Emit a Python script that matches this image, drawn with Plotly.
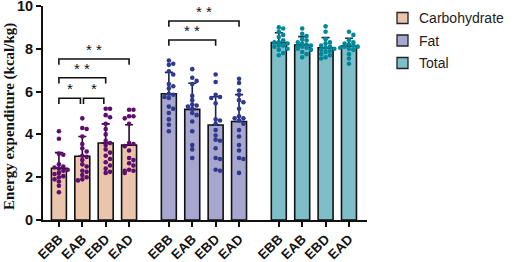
import plotly.graph_objects as go

# ---------------- data ----------------
categories = ["EBB", "EAB", "EBD", "EAD"]
groups = ["Carbohydrate", "Fat", "Total"]

means = {
    "Carbohydrate": [2.42, 2.98, 3.60, 3.50],
    "Fat": [5.90, 5.17, 4.44, 4.60],
    "Total": [8.29, 8.18, 8.05, 8.13],
}
sds = {
    "Carbohydrate": [0.73, 0.92, 0.89, 0.95],
    "Fat": [1.00, 1.22, 1.32, 1.26],
    "Total": [0.46, 0.39, 0.47, 0.36],
}

carb_EBB = [4.15, 3.8, 3.1, 3.05, 2.6, 2.5, 2.45, 2.4, 2.35, 2.3, 2.2, 2.15, 2.05, 2.0, 1.9, 1.8, 1.6, 1.3]
carb_EAB = [4.75, 4.3, 4.25, 3.9, 3.55, 3.35, 3.2, 3.0, 2.95, 2.8, 2.6, 2.5, 2.3, 2.25, 2.1, 2.0, 1.9, 1.85]
carb_EBD = [5.2, 5.2, 4.9, 4.8, 4.5, 4.25, 4.0, 3.7, 3.6, 3.5, 3.3, 3.15, 3.0, 2.85, 2.7, 2.55, 2.4, 2.25, 2.2]
carb_EAD = [5.15, 5.15, 4.85, 4.85, 4.75, 4.5, 3.6, 3.55, 3.45, 3.25, 2.9, 2.8, 2.65, 2.55, 2.35, 2.3, 2.3, 2.2]

fat_EBB = [7.45, 7.3, 7.25, 6.95, 6.8, 6.35, 6.25, 6.15, 5.9, 5.85, 5.75, 5.7, 5.3, 5.2, 5.0, 4.7, 4.45, 4.15]
fat_EAB = [7.05, 6.65, 6.5, 6.35, 5.8, 5.6, 5.4, 5.35, 5.3, 5.2, 5.0, 4.9, 4.6, 4.15, 3.5, 3.3, 2.9]
fat_EBD = [6.8, 6.45, 5.85, 5.75, 5.7, 5.45, 4.7, 4.65, 4.5, 4.2, 3.95, 3.75, 3.7, 3.35, 2.9, 2.85, 2.35, 2.3]
fat_EAD = [6.6, 6.4, 6.05, 5.85, 5.6, 5.5, 5.2, 4.85, 4.75, 4.75, 4.65, 4.5, 4.2, 3.9, 3.5, 3.25, 2.9, 2.85, 2.2]

tot_EBB = [9.0, 8.95, 8.8, 8.65, 8.55, 8.4, 8.3, 8.3, 8.25, 8.2, 8.15, 8.15, 8.1, 8.0, 7.95, 7.8, 7.7]
tot_EAB = [8.95, 8.7, 8.6, 8.45, 8.4, 8.3, 8.25, 8.2, 8.15, 8.1, 8.1, 8.05, 8.0, 7.95, 7.85, 7.75, 7.6]
tot_EBD = [9.05, 8.8, 8.45, 8.3, 8.25, 8.15, 8.1, 8.05, 8.0, 7.95, 7.9, 7.85, 7.75, 7.7, 7.6, 7.55]
tot_EAD = [8.8, 8.65, 8.4, 8.3, 8.25, 8.2, 8.15, 8.1, 8.1, 8.05, 8.0, 7.95, 7.75, 7.55, 7.3]

points = {
    "Carbohydrate": [carb_EBB, carb_EAB, carb_EBD, carb_EAD],
    "Fat": [fat_EBB, fat_EAB, fat_EBD, fat_EAD],
    "Total": [tot_EBB, tot_EAB, tot_EBD, tot_EAD],
}

# significance brackets (group, idx1, idx2, height, label)
sig_group = ["Carbohydrate", "Carbohydrate", "Carbohydrate", "Carbohydrate", "Fat", "Fat"]
sig_i1 = [0, 1, 0, 0, 0, 0]
sig_i2 = [1, 2, 2, 3, 2, 3]
sig_y = [5.69, 5.69, 6.65, 7.52, 8.41, 9.30]
sig_label = ["*", "*", "* *", "* *", "* *", "* *"]

# ---------------- style ----------------
bar_fill = {"Carbohydrate": "#EAC4AB", "Fat": "#A7A6CE", "Total": "#7EBEC8"}
dot_col = {"Carbohydrate": "#5E0F6E", "Fat": "#2F3A8F", "Total": "#00879A"}
err_col = {"Carbohydrate": "#2A0830", "Fat": "#1A1F55", "Total": "#0E2F35"}

W, H = 512, 262
ML, MR, MT, MB = 43, 145, 6, 42
PW, PH = W - ML - MR, H - MT - MB

GROUP_STEP = 4.7
BAR_W = 0.64
PX_PER_X = 23.4
PX_PER_Y = 21.4
DOT_D = 4.6

def pos(g, i):
    return groups.index(g) * GROUP_STEP + i

def px2paper_x(px):
    return (px - ML) / PW

def px2paper_y(py):
    return (H - MB - py) / PH

def swarm(vals, center):
    placed = []
    xs = [None] * len(vals)
    order = sorted(range(len(vals)), key=lambda k: -vals[k])
    step = DOT_D * 0.95
    cands = [0]
    for m in range(1, 6):
        cands += [m * step, -m * step]
    for k in order:
        yp = vals[k] * PX_PER_Y
        chosen = None
        for c in cands:
            if abs(c) > 8.5:
                continue
            ok = all((c - px) ** 2 + (yp - py) ** 2 >= (DOT_D * 0.9) ** 2 for px, py in placed)
            if ok:
                chosen = c
                break
        if chosen is None:
            chosen = cands[len(placed) % 5]
        placed.append((chosen, yp))
        xs[k] = center + chosen / PX_PER_X
    return xs

fig = go.Figure()
for g in groups:
    xs = [pos(g, i) for i in range(4)]
    fig.add_trace(go.Bar(
        x=xs, y=means[g], width=BAR_W, name=g, showlegend=False,
        marker=dict(color=bar_fill[g], line=dict(color="#111111", width=1.6)),
        error_y=dict(type="data", array=sds[g], arrayminus=[0] * 4, symmetric=False,
                     color=err_col[g], thickness=1.6, width=4),
    ))
for g in groups:
    for i in range(4):
        vals = points[g][i]
        fig.add_trace(go.Scatter(
            x=swarm(vals, pos(g, i)), y=vals, mode="markers", showlegend=False,
            marker=dict(color=dot_col[g], size=DOT_D, line=dict(width=0)),
            hoverinfo="skip",
        ))

shapes = []
annotations = []
for g, a, b, h, lab in zip(sig_group, sig_i1, sig_i2, sig_y, sig_label):
    x1 = pos(g, a)
    x2 = pos(g, b)
    if b - a == 1:
        x1 += 0.05 if a > 0 else 0
        x2 -= 0.08
    tick = 0.27
    shapes.append(dict(type="path", xref="x", yref="y",
                       path=f"M {x1},{h - tick} L {x1},{h} L {x2},{h} L {x2},{h - tick}",
                       line=dict(color="#111111", width=1.6)))
    annotations.append(dict(x=(x1 + x2) / 2, y=h - 0.05, xref="x", yref="y", text=lab,
                            showarrow=False, yanchor="bottom", xanchor="center",
                            font=dict(family="Liberation Sans, Arial", size=15, color="#111111")))

# manual legend (swatch + label per group)
LEG_X0, LEG_SW, LEG_Y0, LEG_DY, LEG_TX = 397, 11, 18, 22.5, 417
for k, g in enumerate(groups):
    cy = LEG_Y0 + k * LEG_DY
    shapes.append(dict(type="rect", xref="paper", yref="paper",
                       x0=px2paper_x(LEG_X0), x1=px2paper_x(LEG_X0 + LEG_SW),
                       y0=px2paper_y(cy + LEG_SW / 2), y1=px2paper_y(cy - LEG_SW / 2),
                       fillcolor=bar_fill[g], line=dict(color="#222222", width=1.3)))
    annotations.append(dict(x=px2paper_x(LEG_TX), y=px2paper_y(cy), xref="paper", yref="paper",
                            xanchor="left", yanchor="middle", text=g, showarrow=False,
                            font=dict(family="Liberation Sans, Arial", size=14, color="#222222")))

annotations.append(dict(x=-0.102, y=0.486, xref="paper", yref="paper",
                        xanchor="center", yanchor="middle",
                        text="Energy expenditure (kcal/kg)", textangle=-90, showarrow=False,
                        font=dict(family="Liberation Serif, Times New Roman", size=15,
                                  color="#111111", weight="bold")))

tickvals = [pos(g, i) for g in groups for i in range(4)]
ticktext = [c for g in groups for c in categories]

fig.update_layout(
    width=W, height=H,
    margin=dict(l=ML, r=MR, t=MT, b=MB, autoexpand=False),
    paper_bgcolor="white", plot_bgcolor="white",
    barmode="overlay",
    shapes=shapes, annotations=annotations,
    showlegend=False,
    xaxis=dict(range=[-0.68, 13.17], tickvals=tickvals, ticktext=ticktext, tickangle=-45,
               showline=True, linecolor="#111111", linewidth=1.8, ticks="outside",
               ticklen=5, tickwidth=1.6, tickcolor="#111111", showgrid=False, zeroline=False,
               ticklabelstandoff=-1, automargin=False, ticklabeloverflow="allow",
               tickfont=dict(family="Liberation Sans, Arial", size=13.5, color="#111111",
                             weight="bold")),
    yaxis=dict(range=[0, 10], tickvals=[0, 2, 4, 6, 8, 10],
               showline=True, linecolor="#111111", linewidth=1.8, ticks="outside",
               ticklen=5, tickwidth=1.6, tickcolor="#111111", showgrid=False, zeroline=False,
               automargin=False, ticklabeloverflow="allow",
               tickfont=dict(family="Liberation Sans, Arial", size=14.5, color="#111111",
                             weight="bold")),
)

fig.write_html("out.html", config={"displayModeBar": False},
               post_script="document.body.style.margin='0px';")
